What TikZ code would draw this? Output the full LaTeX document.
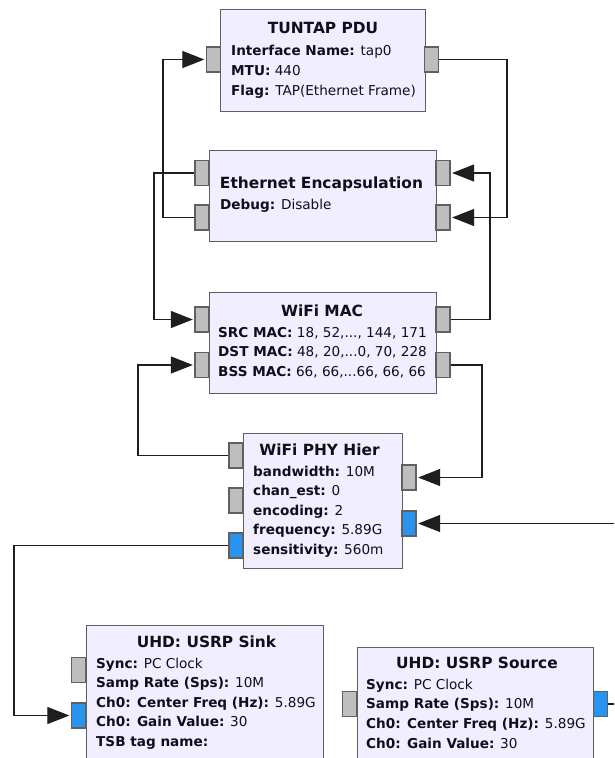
\documentclass[tikz,border=0pt]{standalone}
\usepackage{fontspec}
\setmainfont{DejaVu Sans}
\usetikzlibrary{arrows.meta, positioning}
\definecolor{BlockFill}{RGB}{241, 238, 255}
\definecolor{BlockLine}{RGB}{96, 96, 96}
\definecolor{PortGray}{RGB}{190, 190, 190}
\definecolor{PortBlue}{RGB}{41, 148, 240}
\definecolor{WireGray}{RGB}{30, 30, 30}
\definecolor{TextDark}{RGB}{15, 15, 25}

\tikzset{
  block/.style={draw=BlockLine, fill=BlockFill, line width=1.3pt, anchor=north west, inner sep=0pt},
  port/.style={draw=BlockLine, line width=1.3pt, minimum width=14pt, minimum height=25pt, inner sep=0pt},
  gport/.style={port, fill=PortGray},
  bport/.style={port, fill=PortBlue},
  wire/.style={draw=WireGray, line width=1.2pt},
  arr/.style={wire, -{Triangle[length=22pt, width=17pt]}, shorten >=1.5pt},
  title/.style={anchor=base, inner sep=0pt, text=TextDark, font=\fontsize{15.4}{20}\selectfont\bfseries},
  param/.style={anchor=base west, inner sep=0pt, text=TextDark, font=\fontsize{13.6}{20}\selectfont}
}

\begin{document}
\begin{tikzpicture}[x=1pt, y=-1pt]
  \useasboundingbox (0,0) rectangle (614,758);
  \fill[white] (0,0) rectangle (614,758);
  \clip (0,0) rectangle (614,758);

  % Blocks
  \node[block, minimum width=205pt, minimum height=102pt] (tun) at (220,9) {};
  \node[block, minimum width=227pt, minimum height=91pt] (eth) at (209,150) {};
  \node[block, minimum width=227pt, minimum height=101pt] (mac) at (209,292) {};
  \node[block, minimum width=159pt, minimum height=135pt] (phy) at (243,433) {};
  \node[block, minimum width=237pt, minimum height=200pt] (snk) at (86,625) {};
  \node[block, minimum width=236pt, minimum height=200pt] (src) at (357,647) {};

  % Ports
  \node[gport] (tun-in) at (213.5,59.5) {};
  \node[gport] (tun-out) at (431.5,59.5) {};
  \node[gport] (eth-o0) at (202,173) {};
  \node[gport] (eth-o1) at (202,217.5) {};
  \node[gport] (eth-i0) at (443,173) {};
  \node[gport] (eth-i1) at (443,217.5) {};
  \node[gport] (mac-i0) at (202,319.5) {};
  \node[gport] (mac-i1) at (202,365) {};
  \node[gport] (mac-o0) at (443,319.5) {};
  \node[gport] (mac-o1) at (443,365) {};
  \node[gport] (phy-o0) at (236,455.5) {};
  \node[gport] (phy-o1) at (236,500.5) {};
  \node[bport] (phy-o2) at (236,545.5) {};
  \node[gport] (phy-i0) at (409,477.5) {};
  \node[bport] (phy-i1) at (409,523.5) {};
  \node[gport] (snk-i0) at (78.5,670) {};
  \node[bport] (snk-i1) at (78.5,715.5) {};
  \node[gport] (src-i) at (349.5,704) {};
  \node[bport] (src-o) at (600.5,704) {};

  % Block texts
  \node[title] (tun-t) at (323,33) {TUNTAP PDU};
  \node[param] (tun-p1) at (231,55) {\textbf{Interface Name:} tap0};
  \node[param] (tun-p2) at (231,75) {\textbf{MTU:} 440};
  \node[param] (tun-p3) at (231,95) {\textbf{Flag:} TAP(Ethernet Frame)};

  \node[title] (eth-t) at (321.5,188) {Ethernet Encapsulation};
  \node[param] (eth-p1) at (220,209) {\textbf{Debug:} Disable};

  \node[title] (mac-t) at (322,316) {WiFi MAC};
  \node[param] (mac-p1) at (218,337) {\textbf{SRC MAC:} 18, 52,..., 144, 171};
  \node[param] (mac-p2) at (218,356.5) {\textbf{DST MAC:} 48, 20,...0, 70, 228};
  \node[param] (mac-p3) at (218,376) {\textbf{BSS MAC:} 66, 66,...66, 66, 66};

  \node[title] (phy-t) at (319.5,455) {WiFi PHY Hier};
  \foreach \k/\v [count=\i] in {bandwidth/10M, chan\_est/0, encoding/2, frequency/5.89G, sensitivity/560m}
    \node[param] (phy-p\i) at (253,456.4+19.6*\i) {\textbf{\k:} \v};

  \node[title] (snk-t) at (206.5,647) {UHD: USRP Sink};
  \foreach \k/\v [count=\i] in {Sync/PC Clock, Samp Rate (Sps)/10M, Ch0: Center Freq (Hz)/5.89G, Ch0: Gain Value/30, TSB tag name/{}}
    \node[param] (snk-p\i) at (96,648.5+19.5*\i) {\textbf{\k:} \v};

  \node[title] (src-t) at (477,668) {UHD: USRP Source};
  \foreach \k/\v [count=\i] in {Sync/PC Clock, Samp Rate (Sps)/10M, Ch0: Center Freq (Hz)/5.89G, Ch0: Gain Value/30}
    \node[param] (src-p\i) at (366,669.3+19.7*\i) {\textbf{\k:} \v};

  % Connections
  \draw[arr] (tun-out.east) -| (507,140) |- (eth-i1.east);
  \draw[arr] (eth-o0.west) -| (154,250) |- (mac-i0.west);
  \draw[arr] (eth-o1.west) -| (163,140) |- (tun-in.west);
  \draw[arr] (mac-o0.east) -| (490,250) |- (eth-i0.east);
  \draw[arr] (mac-o1.east) -| (482,420) |- (phy-i0.east);
  \draw[arr] (phy-o0.west) -| (138,420) |- (mac-i1.west);
  \draw[arr] (phy-o2.west) -| (14,630) |- (snk-i1.west);
  \draw[arr] (src-o.east) -| (640,600) |- (phy-i1.east);
\end{tikzpicture}
\end{document}
